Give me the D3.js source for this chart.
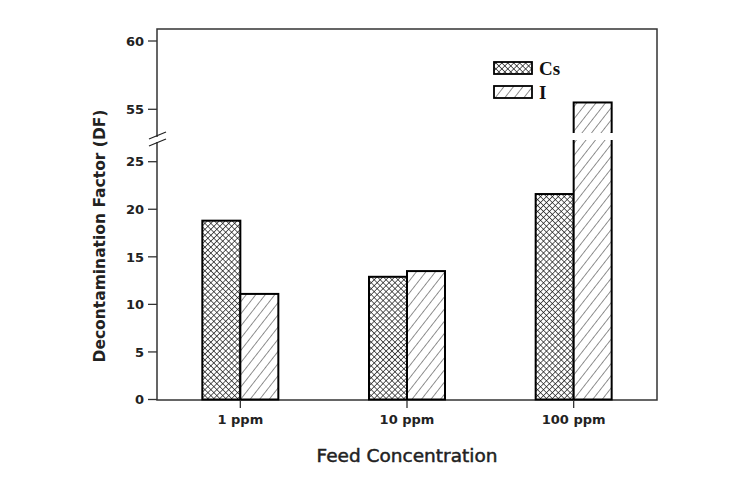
<!DOCTYPE html>
<html><head><meta charset="utf-8">
<script src="https://cdn.jsdelivr.net/npm/d3@7"></script>
<style>body{margin:0;background:#fff}</style>
</head><body>
<svg id="chart" width="750" height="478"></svg>
<script>
const categories = ["1 ppm", "10 ppm", "100 ppm"];
const seriesNames = ["Cs", "I"];
const csValues = [18.8, 12.9, 21.6];
const iValues = [11.1, 13.5, 55.5];
const lowerTicks = [0, 5, 10, 15, 20, 25];
const upperTicks = [55, 60];
const breakLow = 25, breakHigh = 55;

const svg = d3.select("#chart");
const L = 157, R = 657, T = 29, B = 400;

const x = d3.scaleBand().domain(categories).range([L, R]).padding(0);
const yLow = d3.scaleLinear().domain([0, 25]).range([399.5, 161.7]);
const yHigh = d3.scaleLinear().domain([55, 60]).range([109.3, 41]);
const y = v => v > breakLow ? yHigh(v) : yLow(v);

const defs = svg.append("defs");
const cross = defs.append("pattern").attr("id", "cross").attr("patternUnits", "userSpaceOnUse")
  .attr("width", 4.2).attr("height", 4.2).attr("patternTransform", "rotate(45)");
cross.append("rect").attr("width", 4.2).attr("height", 4.2).attr("fill", "#fff");
cross.append("line").attr("x1", 0).attr("y1", 0).attr("x2", 0).attr("y2", 4.2).attr("stroke", "#111").attr("stroke-width", 1.3);
cross.append("line").attr("x1", 0).attr("y1", 0).attr("x2", 4.2).attr("y2", 0).attr("stroke", "#111").attr("stroke-width", 1.3);
const hatch = defs.append("pattern").attr("id", "hatch").attr("patternUnits", "userSpaceOnUse")
  .attr("width", 7.5).attr("height", 7.5).attr("patternTransform", "rotate(38)");
hatch.append("rect").attr("width", 7.5).attr("height", 7.5).attr("fill", "#fff");
hatch.append("line").attr("x1", 0).attr("y1", 0).attr("x2", 0).attr("y2", 7.5).attr("stroke", "#222").attr("stroke-width", 1);
const fills = {Cs: "url(#cross)", I: "url(#hatch)"};

// frame
svg.append("rect").attr("x", L).attr("y", T).attr("width", R - L).attr("height", B - T)
  .attr("fill", "none").attr("stroke", "#333").attr("stroke-width", 1.5);

// bars
const rows = [];
categories.forEach((c, i) => {
  rows.push({cat: c, s: "Cs", v: csValues[i]});
  rows.push({cat: c, s: "I", v: iValues[i]});
});
const bw = 38;
const barG = svg.append("g");
rows.forEach(d => {
  const cx = x(d.cat) + x.bandwidth() / 2;
  const bx = d.s === "Cs" ? cx - bw : cx;
  barG.append("rect").attr("x", bx).attr("y", y(d.v)).attr("width", bw).attr("height", yLow(0) - y(d.v))
    .attr("fill", fills[d.s]).attr("stroke", "#000").attr("stroke-width", 2);
  if (d.v > breakLow) {
    barG.append("rect").attr("x", bx - 2).attr("y", 133).attr("width", bw + 4).attr("height", 7).attr("fill", "#fff");
  }
});

// y axis ticks
const axG = svg.append("g").attr("font-family", "DejaVu Sans, Verdana, sans-serif").attr("font-weight", "bold").attr("font-size", 13).attr("fill", "#222");
const tickData = lowerTicks.map(v => ({v, p: yLow(v)})).concat(upperTicks.map(v => ({v, p: yHigh(v)})));
tickData.forEach(t => {
  axG.append("line").attr("x1", 148).attr("x2", L).attr("y1", t.p).attr("y2", t.p).attr("stroke", "#333").attr("stroke-width", 1.3);
  axG.append("text").attr("x", 144).attr("y", t.p).attr("dy", "0.36em").attr("text-anchor", "end").text(t.v);
});
// axis break marks
svg.append("rect").attr("x", 154).attr("y", 137).attr("width", 6).attr("height", 5).attr("fill", "#fff");
[0, 7].forEach(o => {
  svg.append("line").attr("x1", 149).attr("y1", 139 + o).attr("x2", 166).attr("y2", 132 + o).attr("stroke", "#222").attr("stroke-width", 1.2);
});

// x ticks
categories.forEach(c => {
  const cx = x(c) + x.bandwidth() / 2;
  axG.append("line").attr("x1", cx).attr("x2", cx).attr("y1", B).attr("y2", 408).attr("stroke", "#333").attr("stroke-width", 1.3);
  axG.append("text").attr("x", cx).attr("y", 424).attr("text-anchor", "middle").text(c);
});

// axis titles
svg.append("text").attr("x", 407).attr("y", 462).attr("text-anchor", "middle")
  .attr("font-family", "DejaVu Sans, Verdana, sans-serif").attr("font-size", 18.5).attr("fill", "#222")
  .attr("stroke", "#222").attr("stroke-width", 0.5).text("Feed Concentration");
svg.append("text").attr("transform", "translate(105,236) rotate(-90)").attr("text-anchor", "middle")
  .attr("font-family", "DejaVu Sans, Verdana, sans-serif").attr("font-weight", "bold").attr("font-size", 15.5).attr("fill", "#222")
  .text("Decontamination Factor (DF)");

// legend
const leg = svg.append("g");
seriesNames.forEach((s, i) => {
  const ly = 62 + i * 24;
  leg.append("rect").attr("x", 494).attr("y", ly).attr("width", 38).attr("height", 12)
    .attr("fill", fills[s]).attr("stroke", "#000").attr("stroke-width", 1.8);
  leg.append("text").attr("x", 539).attr("y", ly + 13).attr("font-family", "Liberation Serif, Times New Roman, serif")
    .attr("font-weight", "bold").attr("font-size", 19).attr("fill", "#111").text(s);
});
</script>
</body></html>
